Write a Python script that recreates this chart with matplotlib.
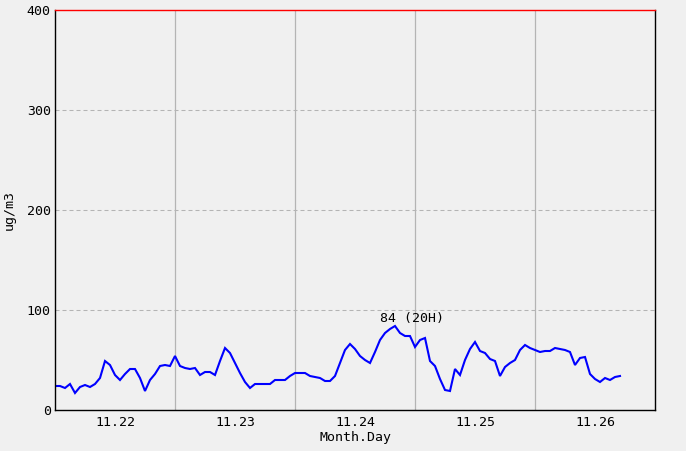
import numpy as np
import matplotlib
matplotlib.use("Agg")
import matplotlib.pyplot as plt

# hourly values starting 11.22 00:00
values = [24, 24, 22, 26, 17, 23, 25, 23, 26, 32,
          49, 45, 35, 30, 36, 41, 41, 32, 19, 30,
          36, 44, 45, 44, 54, 44, 42, 41, 42, 35,
          38, 38, 35, 49, 62, 57, 47, 37, 28, 22,
          26, 26, 26, 26, 30, 30, 30, 34, 37, 37,
          37, 34, 33, 32, 29, 29, 34, 47, 60, 66,
          61, 54, 50, 47, 58, 70, 77, 81, 84, 77,
          74, 74, 63, 70, 72, 49, 44, 31, 20, 19,
          41, 35, 50, 61, 68, 59, 57, 51, 49, 34,
          43, 47, 50, 60, 65, 62, 60, 58, 59, 59,
          62, 61, 60, 58, 45, 52, 53, 36, 31, 28,
          32, 30, 33, 34]
day_labels = ["11.22", "11.23", "11.24", "11.25", "11.26"]
y_ticks = [0, 100, 200, 300, 400]
peak_label = "84 (20H)"

bg = "#f0f0f0"
font = "DejaVu Sans Mono"
fs = 9.5

fig = plt.figure(figsize=(6.86, 4.51), dpi=100, facecolor=bg)
ax = fig.add_axes([55/686, 41/451, 600/686, 400/451], facecolor=bg)

hours = np.arange(len(values))
ax.plot(hours, values, color="#0000ff", lw=1.5, solid_joinstyle="miter")

ndays = len(day_labels)
ax.set_xlim(0, 24 * ndays)
ax.set_ylim(0, 400)

ax.set_xticks([24 * i + 12 for i in range(ndays)])
ax.set_xticklabels(day_labels, fontfamily=font, fontsize=fs)
ax.set_xticks([24 * i for i in range(1, ndays)], minor=True)
ax.set_yticks(y_ticks)
ax.set_yticklabels([str(v) for v in y_ticks], fontfamily=font, fontsize=fs)
ax.tick_params(axis="both", which="both", length=0)
ax.tick_params(axis="y", pad=3)
ax.tick_params(axis="x", pad=4)

ax.grid(axis="x", which="minor", color="#b4b4b4", lw=0.9, ls="-")
ax.grid(axis="y", which="major", color="#b4b4b4", lw=0.75, ls=(0, (3.84, 2.88)))
ax.grid(axis="x", which="major", visible=False)
ax.set_axisbelow(True)

for s in ["left", "bottom", "right"]:
    ax.spines[s].set_color("black")
    ax.spines[s].set_linewidth(1.0)
ax.spines["top"].set_color("red")
ax.spines["top"].set_linewidth(1.0)

ax.set_xlabel("Month.Day", fontfamily=font, fontsize=fs, labelpad=2)
ax.set_ylabel("ug/m3", fontfamily=font, fontsize=fs, labelpad=8)

pk = int(np.argmax(values))
ax.annotate(peak_label, xy=(hours[pk], values[pk]), xytext=(-11, 1),
            textcoords="offset points", ha="left", va="bottom",
            fontfamily=font, fontsize=fs)

fig.savefig("out.png", dpi=100, facecolor=bg)
